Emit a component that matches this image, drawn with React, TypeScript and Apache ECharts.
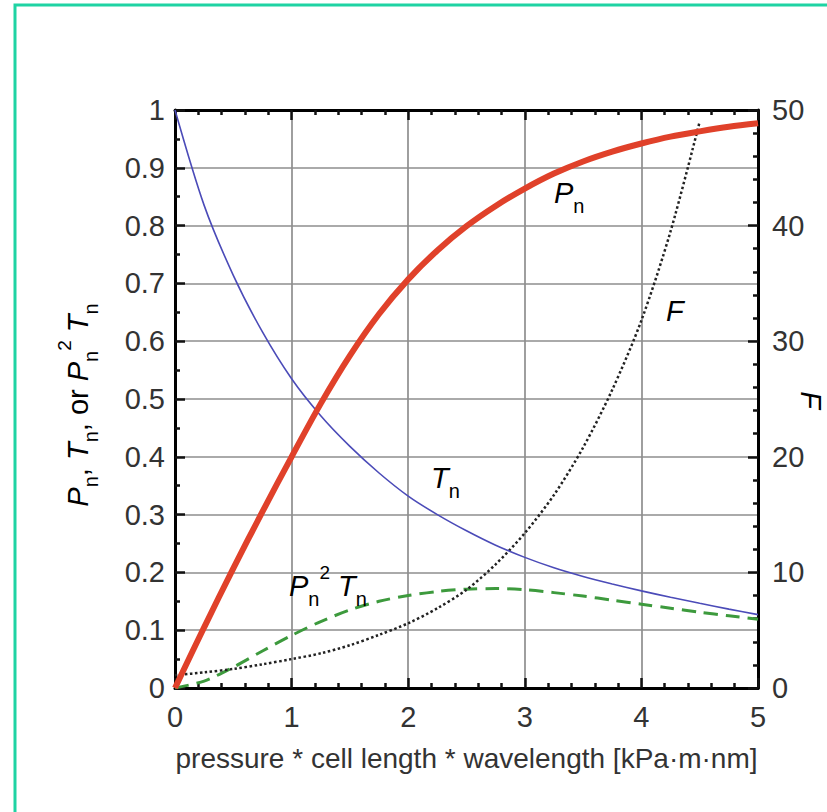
import React, { useEffect, useRef } from "react";
import * as echarts from "echarts";

// x positions (pressure * cell length * wavelength)
const xValues = [0, 0.25, 0.5, 0.75, 1, 1.25, 1.5, 1.75, 2, 2.25, 2.5, 2.75, 3, 3.25, 3.5, 3.75, 4, 4.25, 4.5, 4.75, 5];
// P_n (left axis)
const pnValues = [0, 0.105, 0.207, 0.305, 0.4, 0.492, 0.575, 0.647, 0.707, 0.757, 0.799, 0.834, 0.864, 0.89, 0.911, 0.928, 0.942, 0.954, 0.963, 0.971, 0.977];
// T_n (left axis)
const tnValues = [1.0, 0.835, 0.714, 0.616, 0.535, 0.471, 0.418, 0.372, 0.332, 0.3, 0.272, 0.247, 0.226, 0.208, 0.193, 0.18, 0.168, 0.157, 0.1465, 0.1365, 0.127];
// P_n^2 T_n (left axis)
const pn2tnValues = [0, 0.012, 0.036, 0.064, 0.091, 0.115, 0.135, 0.15, 0.16, 0.167, 0.171, 0.172, 0.17, 0.165, 0.159, 0.152, 0.145, 0.138, 0.131, 0.125, 0.119];
// F (right axis), read up to where it leaves the plot
const fValues = [1.1, 1.35, 1.65, 2.05, 2.5, 3.0, 3.7, 4.6, 5.6, 6.9, 8.5, 10.7, 13.4, 16.7, 20.8, 25.8, 31.8, 39.5, 49.0];

const xTitle = "pressure * cell length * wavelength [kPa\u00b7m\u00b7nm]";
const yTitle = "{i|P}{sub|n}{t|, }{i|T}{sub|n}{t|, or }{i|P}{sub|n}{sup|2}{t| }{i|T}{sub|n}";
const rightTitle = "{i|F}";

const FONT = "'Liberation Sans', Arial, sans-serif";
const TXT = "#333";

const pairs = (xs: number[], ys: number[]) => ys.map((v, i) => [xs[i], v]);

const rich = {
  i: { fontSize: 29, fontStyle: "italic", fontFamily: FONT, color: TXT, lineHeight: 46 },
  t: { fontSize: 29, fontFamily: FONT, color: TXT, lineHeight: 46 },
  sub: { fontSize: 20, fontFamily: FONT, color: TXT, lineHeight: 16, verticalAlign: "bottom" },
  sup: { fontSize: 19, fontFamily: FONT, color: TXT, lineHeight: 16, verticalAlign: "top" },
};

const tickLine = { color: "#111", width: 2.5 };
const gridLine = { color: "#8e8e8e", width: 1.7 };

const baseAxis = {
  axisLine: { show: true, onZero: false, lineStyle: { color: "#000", width: 3 } },
  axisTick: { show: true, inside: true, length: 10, lineStyle: tickLine },
};

export default function App() {
  const ref = useRef<HTMLDivElement>(null);
  useEffect(() => {
    const chart = echarts.init(ref.current!, null, { renderer: "svg" });
    const label = (text: string, x: number, y: number) => ({
      type: "text",
      x,
      y,
      z: 100,
      style: { text, rich, textAlign: "left", textVerticalAlign: "top", align: "left", verticalAlign: "top" },
    });
    const rotated = (text: string, x: number, y: number, rotation: number) => ({
      type: "text",
      x,
      y,
      rotation,
      z: 100,
      style: { text, rich, textAlign: "center", textVerticalAlign: "middle", align: "center", verticalAlign: "middle" },
    });
    chart.setOption({
      animation: false,
      backgroundColor: "#fff",
      grid: { left: 175, right: 69, top: 110, bottom: 124, containLabel: false, outerBoundsMode: "none" },
      xAxis: [
        {
          ...baseAxis,
          type: "value",
          min: 0,
          max: 5,
          interval: 1,
          position: "bottom",
          minorTick: { show: true, splitNumber: 5, length: 5, lineStyle: tickLine },
          axisLabel: { margin: 14, fontSize: 29, color: TXT, fontFamily: FONT },
          splitLine: { show: true, lineStyle: gridLine },
          name: xTitle,
          nameLocation: "middle",
          nameGap: 56,
          nameTextStyle: { fontSize: 28, color: TXT, fontFamily: FONT },
        },
        {
          ...baseAxis,
          type: "value",
          min: 0,
          max: 5,
          interval: 1,
          position: "top",
          minorTick: { show: true, splitNumber: 5, length: 5, lineStyle: tickLine },
          axisLabel: { show: false },
          splitLine: { show: false },
        },
      ],
      yAxis: [
        {
          ...baseAxis,
          type: "value",
          min: 0,
          max: 1,
          interval: 0.1,
          position: "left",
          minorTick: { show: true, splitNumber: 2, length: 5, lineStyle: tickLine },
          axisLabel: { margin: 10, fontSize: 29, color: TXT, fontFamily: FONT },
          splitLine: { show: true, lineStyle: gridLine },
        },
        {
          ...baseAxis,
          type: "value",
          min: 0,
          max: 50,
          interval: 10,
          position: "right",
          minorTick: { show: true, splitNumber: 5, length: 5, lineStyle: tickLine },
          axisLabel: { margin: 14, fontSize: 29, color: TXT, fontFamily: FONT },
          splitLine: { show: false },
        },
      ],
      series: [
        {
          name: "Pn2Tn",
          type: "line",
          xAxisIndex: 0,
          yAxisIndex: 0,
          data: pairs(xValues, pn2tnValues),
          showSymbol: false,
          symbol: "none",
          smooth: 0.3,
          lineStyle: { color: "#3d9a3d", width: 3, type: [14, 8] },
          z: 3,
        },
        {
          name: "F",
          type: "line",
          xAxisIndex: 0,
          yAxisIndex: 1,
          data: pairs(xValues, fValues),
          showSymbol: false,
          symbol: "none",
          smooth: 0.3,
          lineStyle: { color: "#222", width: 2.5, type: [2.5, 2.5] },
          z: 4,
        },
        {
          name: "Tn",
          type: "line",
          xAxisIndex: 0,
          yAxisIndex: 0,
          data: pairs(xValues, tnValues),
          showSymbol: false,
          symbol: "none",
          smooth: 0.3,
          lineStyle: { color: "#4b4bb8", width: 1.6 },
          z: 5,
        },
        {
          name: "Pn",
          type: "line",
          xAxisIndex: 0,
          yAxisIndex: 0,
          data: pairs(xValues, pnValues),
          showSymbol: false,
          symbol: "none",
          smooth: 0.3,
          lineStyle: { color: "#e0412a", width: 6 },
          z: 6,
        },
      ],
      graphic: [
        {
          type: "rect",
          shape: { x: 15, y: 5, width: 900, height: 900 },
          style: { fill: "none", stroke: "#1fd3a3", lineWidth: 3 },
          z: 0,
        },
        rotated(yTitle, 78, 405, Math.PI / 2),
        rotated(rightTitle, 811, 400, -Math.PI / 2),
        label("{i|P}{sub|n}", 554, 170),
        label("{i|F}", 666, 288),
        label("{i|T}{sub|n}", 431, 455),
        label("{i|P}{sub|n}{sup|2}{t| }{i|T}{sub|n}", 289, 563),
      ],
    });
    return () => chart.dispose();
  }, []);
  return (
    <div
      ref={ref}
      style={{ position: "fixed", left: 0, top: 0, width: 827, height: 812, background: "#fff" }}
    />
  );
}
